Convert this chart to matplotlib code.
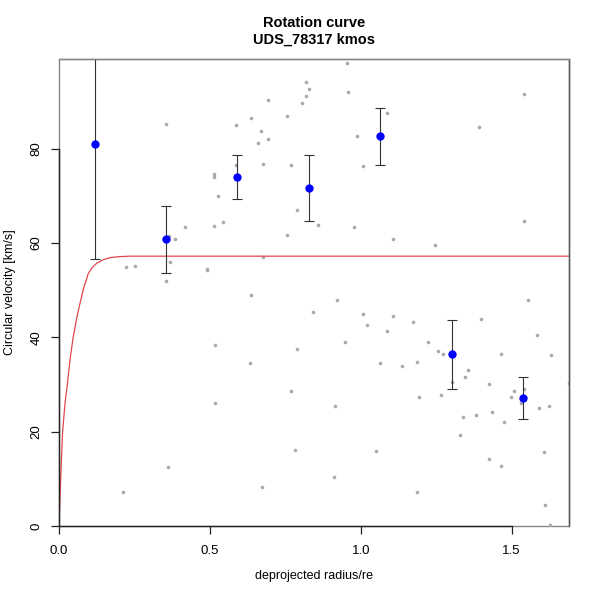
import numpy as np
import matplotlib.pyplot as plt

plt.rcParams['font.family'] = ['Liberation Sans', 'DejaVu Sans']

# individual spaxel velocities (grey)
r_pts = [0.355, 0.586, 0.635, 0.692, 0.668, 0.661, 0.692, 0.677, 0.586, 0.513,
         0.513, 0.528, 0.513, 0.545, 0.418, 0.365, 0.383, 0.369, 0.355, 0.222,
         0.251, 0.489, 0.489, 0.677, 0.754, 0.788, 0.768, 0.754, 0.806, 0.817,
         0.817, 0.827, 0.635, 0.954, 0.958, 1.541, 1.088, 1.393, 0.987, 1.008,
         0.857, 0.976, 1.107, 1.246, 1.540, 0.841, 0.518, 0.788, 0.634, 0.768,
         0.518, 0.783, 0.362, 0.674, 0.211, 0.922, 1.007, 1.022, 1.108, 1.088,
         1.173, 0.947, 1.222, 1.256, 1.273, 1.398, 1.554, 1.585, 1.465, 1.630,
         1.065, 1.138, 1.188, 1.354, 1.344, 1.302, 1.424, 1.194, 1.265, 1.507,
         1.499, 1.542, 1.592, 1.624, 1.689, 0.914, 1.340, 1.382, 1.436, 1.474,
         1.328, 1.049, 1.424, 1.466, 1.608, 0.910, 1.188, 1.609, 1.627, 1.530]
v_pts = [85.2, 85.0, 86.4, 90.3, 83.7, 81.2, 82.1, 76.8, 76.5, 74.6,
         74.0, 69.9, 63.5, 64.5, 63.3, 61.4, 60.9, 56.0, 52.0, 54.9,
         55.1, 54.5, 54.2, 57.1, 61.7, 66.9, 76.5, 87.0, 89.6, 91.1,
         94.1, 92.7, 48.9, 98.2, 91.9, 91.5, 87.5, 84.6, 82.6, 76.4,
         63.8, 63.3, 60.9, 59.6, 64.7, 45.4, 38.3, 37.6, 34.6, 28.7,
         26.1, 16.1, 12.5, 8.2, 7.2, 47.9, 45.0, 42.7, 44.5, 41.4,
         43.2, 39.0, 39.1, 37.1, 36.4, 43.9, 48.0, 40.5, 36.4, 36.2,
         34.5, 34.0, 34.7, 33.0, 31.6, 30.5, 30.0, 27.4, 27.8, 28.6,
         27.4, 29.1, 25.1, 25.5, 30.4, 25.4, 23.2, 23.5, 24.2, 22.0,
         19.3, 15.8, 14.3, 12.8, 15.7, 10.3, 7.2, 4.4, 0.2, 26.0]

# binned rotation curve (blue)
r_bin = [0.118, 0.355, 0.590, 0.828, 1.064, 1.301, 1.536]
v_bin = [80.9, 60.8, 73.9, 71.7, 82.6, 36.4, 27.1]
v_err = [24.3, 7.1, 4.65, 6.95, 6.1, 7.25, 4.5]

# model curve (red)
r_mod = [0.0, 0.004, 0.008, 0.012, 0.020, 0.028, 0.037, 0.047, 0.057, 0.067,
         0.082, 0.097, 0.110, 0.125, 0.145, 0.169, 0.200, 0.234, 0.30, 0.50,
         1.0, 1.69]
v_mod = [0.0, 6.9, 13.8, 20.0, 26.0, 30.2, 35.5, 40.0, 43.5, 46.5,
         50.5, 53.5, 54.8, 55.7, 56.4, 56.9, 57.1, 57.2, 57.2, 57.2,
         57.2, 57.2]

fig = plt.figure(figsize=(6, 6), dpi=100)
ax = fig.add_axes([0.0983, 0.1233, 0.85, 0.7784])

ax.plot(r_pts, v_pts, 'o', color='#aaaaaa', markersize=2.6, markeredgewidth=0)
ax.plot(r_mod, v_mod, color='#e0474c', linewidth=0.9)
ax.errorbar(r_bin, v_bin, yerr=v_err, fmt='none', ecolor='#333333',
            elinewidth=0.8, capsize=3.5, capthick=0.8)
ax.plot(r_bin, v_bin, 'o', color='#0000ff', markersize=6, markeredgewidth=0)

ax.set_xlim(0, 1.69)
ax.set_ylim(0, 99)
ax.set_xticks([0.0, 0.5, 1.0, 1.5])
ax.set_xticklabels(['0.0', '0.5', '1.0', '1.5'])
ax.set_yticks([0, 20, 40, 60, 80])
ax.tick_params(direction='out', length=6, width=0.9, labelsize=9.5, color='#222222')
ax.tick_params(axis='x', pad=8)
ax.tick_params(axis='y', pad=6)
for lab in ax.get_yticklabels():
    lab.set_rotation(90)
    lab.set_va('center')

ax.patch.set_edgecolor('#888888')
ax.patch.set_linewidth(1.0)
ax.spines['top'].set_color('#888888')
ax.spines['right'].set_color('#555555')
ax.spines['bottom'].set_bounds(0, 1.5)
ax.spines['left'].set_bounds(0, 80)
for s in ['bottom', 'left']:
    ax.spines[s].set_color('#222222')
for s in ax.spines:
    ax.spines[s].set_linewidth(1.0)

fig.text(0.523, 0.962, 'Rotation curve', ha='center', va='center',
         fontsize=10.5, fontweight='bold')
fig.text(0.523, 0.933, 'UDS_78317 kmos', ha='center', va='center',
         fontsize=10.5, fontweight='bold')
fig.text(0.523, 0.04, 'deprojected radius/re', ha='center', va='center', fontsize=9)
fig.text(0.017, 0.5125, 'Circular velocity [km/s]', ha='center', va='center',
         rotation=90, fontsize=9)

fig.savefig('out.png', dpi=100)
